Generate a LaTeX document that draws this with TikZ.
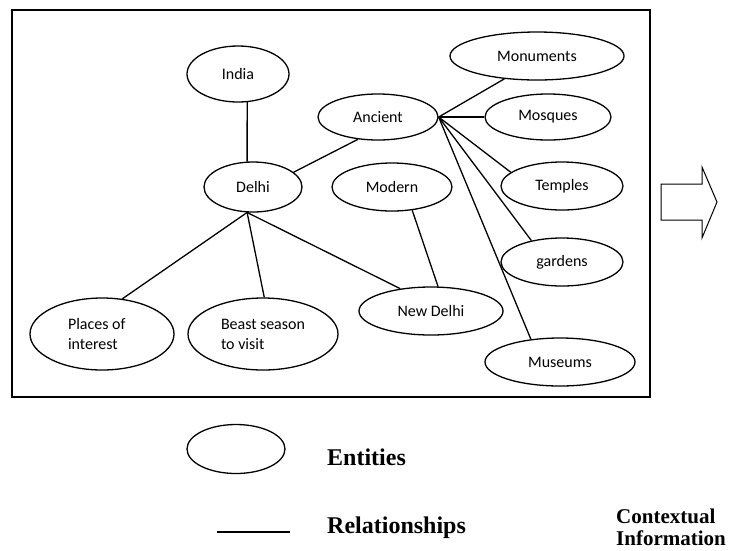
\documentclass[tikz,border=0pt]{standalone}
\usepackage{fontspec}
\setmainfont{Carlito}
\newfontfamily\lgdfont{Liberation Serif}
\usetikzlibrary{shapes.geometric}
\tikzset{
  ent/.style={draw, ellipse, line width=1.3pt, inner sep=0pt, align=left,
              font=\fontsize{16}{20}\selectfont},
  rel/.style={line width=1.3pt},
  lgd/.style={font=\lgdfont\bfseries\fontsize{24}{28}\selectfont, inner sep=0pt, anchor=base west},
}

\begin{document}
\begin{tikzpicture}[x=1pt, y=-1pt]
  \useasboundingbox (0,0) rectangle (731,550);
  % frame round the entity graph
  \draw[line width=1.3pt] (12,10) rectangle (650,397);

  % entities
  \node[ent, minimum width=102, minimum height=56] (india)     at (238,74)  {India};
  \node[ent, minimum width=98,  minimum height=50] (delhi)     at (253,187) {Delhi};
  \node[ent, minimum width=120, minimum height=46] (ancient)   at (378,117) {Ancient};
  \node[ent, minimum width=120, minimum height=48] (modern)    at (392,187) {Modern};
  \node[ent, minimum width=174, minimum height=48] (monuments) at (537,56)  {Monuments};
  \node[ent, minimum width=126, minimum height=46] (mosques)   at (548,117) {Mosques};
  \node[ent, minimum width=122, minimum height=48] (temples)   at (562,186) {Temples};
  \node[ent, minimum width=122, minimum height=48] (gardens)   at (562,262) {gardens};
  \node[ent, minimum width=144, minimum height=48] (newdelhi)  at (431,311) {New Delhi};
  \node[ent, minimum width=150, minimum height=48] (museums)   at (560,362) {Museums};
  \node[ent, minimum width=144, minimum height=72] (places)    at (102,334) {\raisebox{-3pt}{\parbox{68pt}{Places of\\interest}}};
  \node[ent, minimum width=150, minimum height=72] (season)    at (263,334) {\raisebox{-3pt}{\parbox{84pt}{Beast season\\to visit}}};

  % relationships
  \draw[rel] (india.-72) -- (delhi.103);
  \draw[rel] (delhi.20) -- (ancient.-132);
  \draw[rel] (ancient.east) -- (monuments.-145);
  \draw[rel] (ancient.east) -- (mosques.west);
  \draw[rel] (ancient.east) -- (temples.165);
  \draw[rel] (ancient.east) -- (gardens.145);
  \draw[rel] (ancient.east) -- (museums.142);
  \draw[rel] (modern.-49) -- (newdelhi.74);
  \draw[rel] (delhi.-103) -- (newdelhi.144);
  \draw[rel] (delhi.-103) -- (places.60);
  \draw[rel] (delhi.-103) -- (season.88);

  % hollow arrow
  \draw[line width=1pt] (661,184) -- (702,184) -- (702,167) -- (717,202)
        -- (702,238) -- (702,220) -- (661,220) -- cycle;

  % legend
  \node[draw, ellipse, line width=1.3pt, minimum width=98, minimum height=49] (lgdent) at (236,449) {};
  \node[lgd] (lgdenttxt) at (327,465) {Entities};
  \coordinate (relA) at (217,532);
  \coordinate (relB) at (290,532);
  \draw[rel] (relA) -- (relB);
  \node[lgd] (lgdreltxt) at (327,533) {Relationships};
  \node[font=\lgdfont\bfseries\fontsize{21}{22}\selectfont, inner sep=0pt, align=left,
        anchor=north west] (ctxinfo) at (616,509) {Contextual\\Information};
\end{tikzpicture}
\end{document}
